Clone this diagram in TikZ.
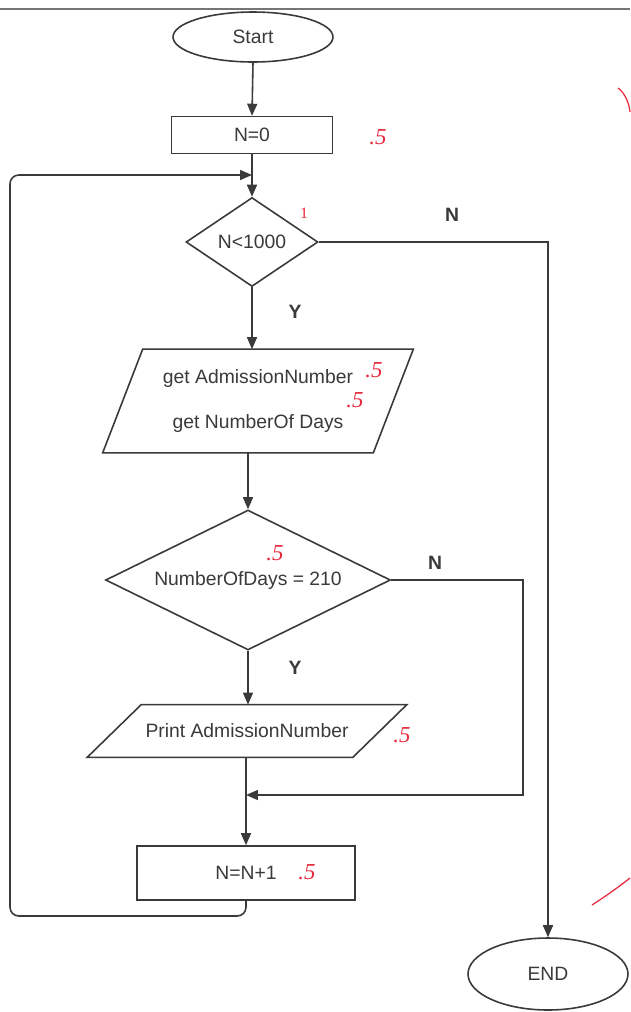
\documentclass[tikz,border=0pt]{standalone}
\usepackage{fontspec}
\setmainfont{Liberation Sans}
\newfontfamily\handfont{Liberation Serif}
\usetikzlibrary{shapes.geometric,arrows.meta,calc}
\definecolor{ink}{HTML}{3A3A3A}
\definecolor{redink}{HTML}{E8283C}
\begin{document}
\begin{tikzpicture}[x=0.02cm,y=-0.02cm,
  line/.style={draw=ink, line width=0.9pt},
  arr/.style={line, -{Triangle[length=2.4mm,width=2mm]}},
  txt/.style={text=ink, font=\fontsize{11}{13}\selectfont},
  term/.style={txt, ellipse, line, inner sep=0pt},
  proc/.style={txt, rectangle, line, inner sep=0pt},
  dec/.style={txt, diamond, line, inner sep=0pt},
  io/.style={txt, rectangle, inner sep=0pt, align=center},
  lab/.style={text=ink, font=\fontsize{11}{13}\selectfont\bfseries},
  grade/.style={text=redink, font=\handfont\itshape\fontsize{13}{15}\selectfont}]
\useasboundingbox[fill=white] (0,0) rectangle (630,1012);
\draw[ink!70, line width=0.6pt] (0,9) -- (630,9);

% nodes
\node[term, minimum width=3.2cm, minimum height=1cm] (start) at (253,37) {Start};
\node[proc, minimum width=3.22cm, minimum height=0.74cm] (n0) at (252,135) {N=0};
\node[dec, aspect=1.48, minimum width=2.64cm, minimum height=1.78cm] (d1) at (252,242) {N<1000};
\node[io, minimum width=5.4cm, minimum height=2.06cm, font=\fontsize{11}{26}\selectfont] (p1) at (258,401) {get AdmissionNumber\\get NumberOf Days};
\draw[line] ($(p1.north west)+(20,0)$) -- ($(p1.north east)+(20,0)$) -- ($(p1.south east)-(20,0)$) -- ($(p1.south west)-(20,0)$) -- cycle;
\node[dec, aspect=2.04, minimum width=5.7cm, minimum height=2.8cm] (d2) at (248,580) {NumberOfDays = 210};
\node[io, minimum width=5.3cm, minimum height=1.04cm] (p2) at (247,731) {Print AdmissionNumber};
\draw[line] ($(p2.north west)+(27,0)$) -- ($(p2.north east)+(27,0)$) -- ($(p2.south east)-(27,0)$) -- ($(p2.south west)-(27,0)$) -- cycle;
\node[proc, minimum width=4.36cm, minimum height=1.08cm] (n1) at (246,873) {N=N+1};
\node[term, minimum width=3.2cm, minimum height=1.44cm] (end) at (548,974) {END};

\coordinate (m1) at (252,175);
\coordinate (lpB) at (10,916);
\coordinate (lpT) at (10,175);
\coordinate (rN) at (523,795);
\coordinate (j1) at (246,795);

% connectors
\draw[arr] (start.south) -- (n0.north);
\draw[arr] (n0.south) -- (d1.north);
\draw[arr] (d1.south) -- (d1.south |- p1.north);
\draw[arr] (p1.south -| d2.north) -- (d2.north);
\draw[arr] (d2.south) -- (d2.south |- p2.north);
\draw[arr] (p2.south -| n1.north) -- (n1.north);
\draw[arr, rounded corners=5pt] (n1.south) |- (lpB) -- (lpT) -- (m1);
\draw[arr] (d1.east) -| (end.north);
\draw[arr] (d2.east) -| (rN) -- (j1);

% branch labels
\node[lab] at (452,215) {N};
\node[lab] at (295,312) {Y};
\node[lab] at (435,563) {N};
\node[lab] at (295,668) {Y};

% handwritten grading marks
\node[grade] at (378,137) {.5};
\node[grade, font=\handfont\fontsize{9}{10}\selectfont] at (304,213) {1};
\node[grade] at (374,370) {.5};
\node[grade] at (355,400) {.5};
\node[grade] at (275,553) {.5};
\node[grade] at (402,735) {.5};
\node[grade] at (307,872) {.5};
\draw[redink, line width=0.7pt] (618,88) .. controls (626,94) and (629,104) .. (630,112);
\draw[redink, line width=0.7pt] (592,905) .. controls (606,896) and (620,886) .. (630,878);
\end{tikzpicture}
\end{document}
